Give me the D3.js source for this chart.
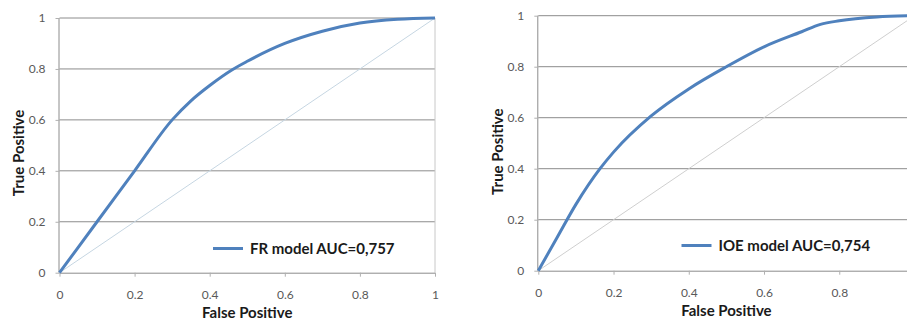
<!DOCTYPE html>
<html>
<head>
<meta charset="utf-8">
<script src="https://cdn.jsdelivr.net/npm/d3@7"></script>
<style>
  html, body { margin: 0; padding: 0; background: #fff; }
  svg { display: block; font-family: Lato, "Open Sans", sans-serif; }
</style>
</head>
<body>
<div id="chart"></div>
<script>
// Valores
const tickValues = [0, 0.2, 0.4, 0.6, 0.8, 1];
const tickLabels = ["0", "0.2", "0.4", "0.6", "0.8", "1"];

// Curva ROC del modelo FR
const fprFR = [0, 0.1, 0.2, 0.3, 0.35, 0.4, 0.46, 0.5, 0.6, 0.7, 0.8, 0.9, 1];
const tprFR = [0, 0.2, 0.4, 0.6, 0.675, 0.735, 0.797, 0.83, 0.9, 0.948, 0.98, 0.995, 1];

// Curva ROC del modelo IOE
const fprIOE = [0, 0.05, 0.1, 0.164, 0.2, 0.3, 0.4, 0.5, 0.6, 0.7, 0.75, 0.8, 0.9, 1];
const tprIOE = [0, 0.13, 0.26, 0.4, 0.465, 0.607, 0.713, 0.8, 0.878, 0.937, 0.966, 0.98, 0.995, 1];

const legendFR = "FR model AUC=0,757";
const legendIOE = "IOE model AUC=0,754";

const width = 907, height = 321;

const svg = d3.select("#chart").append("svg")
  .attr("width", width)
  .attr("height", height);

// Configuración de cada panel (posición en píxeles del área de trazado)
const panels = [
  { x0: 59.5, x1: 435, y0: 272.7, y1: 18, fpr: fprFR, tpr: tprFR, legend: legendFR,
    legX: 213, legY: 248.5, yTitleX: 24, yTitleY: 153, xTitleY: 318, diag: "#c6d6e2" },
  { x0: 538.3, x1: 914.5, y0: 270.7, y1: 15.7, fpr: fprIOE, tpr: tprIOE, legend: legendIOE,
    legX: 681.5, legY: 245.5, yTitleX: 502.5, yTitleY: 151.7, xTitleY: 316, diag: "#cfcfcf" }
];

const blue = "#4f81bd";

panels.forEach(p => {
  const x = d3.scaleLinear().domain([0, 1]).range([p.x0, p.x1]);
  const y = d3.scaleLinear().domain([0, 1]).range([p.y0, p.y1]);
  const g = svg.append("g");

  // Líneas de cuadrícula horizontales
  g.append("g")
    .selectAll("line")
    .data(tickValues.slice(1))
    .join("line")
    .attr("x1", x(0)).attr("x2", x(1))
    .attr("y1", d => y(d)).attr("y2", d => y(d))
    .attr("stroke", "#8c8c8c")
    .attr("stroke-width", 1);

  // Borde derecho del área
  g.append("line")
    .attr("x1", x(1)).attr("x2", x(1))
    .attr("y1", y(1)).attr("y2", y(0))
    .attr("stroke", "#c8c8c8");

  // Eje X (solo las marcas que caen dentro de la ventana)
  const xVals = tickValues.filter(v => x(v) < width - 4);
  const xAxis = d3.axisBottom(x)
    .tickValues(xVals)
    .tickFormat(d => tickLabels[tickValues.indexOf(d)])
    .tickSize(4)
    .tickPadding(14);
  const gx = g.append("g")
    .attr("transform", `translate(0,${y(0)})`)
    .call(xAxis);
  gx.select(".domain").attr("stroke", "#8c8c8c").attr("d", `M${x(0)},0.5H${x(1)}`);
  gx.selectAll(".tick line").attr("stroke", "#b0b0b0");
  gx.selectAll(".tick text")
    .attr("fill", "#595959")
    .attr("font-size", "12px")
    .attr("font-family", "Lato, sans-serif");

  // Eje Y
  const yAxis = d3.axisLeft(y)
    .tickValues(tickValues)
    .tickFormat((d, i) => tickLabels[i])
    .tickSize(4)
    .tickPadding(10);
  const gy = g.append("g")
    .attr("transform", `translate(${x(0)},0)`)
    .call(yAxis);
  gy.select(".domain").attr("stroke", "#8c8c8c").attr("d", `M-0.5,${y(1)}V${y(0)}`);
  gy.selectAll(".tick line").attr("stroke", "#b0b0b0");
  gy.selectAll(".tick text")
    .attr("fill", "#595959")
    .attr("font-size", "12px")
    .attr("font-family", "Lato, sans-serif");

  // Diagonal de referencia
  g.append("line")
    .attr("x1", x(0)).attr("y1", y(0))
    .attr("x2", x(1)).attr("y2", y(1))
    .attr("stroke", p.diag)
    .attr("stroke-width", 1);

  // Curva ROC
  const pts = p.fpr.map((v, i) => [v, p.tpr[i]]);
  const line = d3.line()
    .x(d => x(d[0]))
    .y(d => y(d[1]))
    .curve(d3.curveMonotoneX);
  g.append("path")
    .datum(pts)
    .attr("d", line)
    .attr("fill", "none")
    .attr("stroke", blue)
    .attr("stroke-width", 3)
    .attr("stroke-linejoin", "round");

  // Títulos de ejes
  g.append("text")
    .attr("x", (p.x0 + p.x1) / 2)
    .attr("y", p.xTitleY)
    .attr("text-anchor", "middle")
    .attr("font-size", "15px")
    .attr("font-weight", "bold")
    .attr("fill", "#1a1a1a")
    .text("False Positive");

  g.append("text")
    .attr("transform", `translate(${p.yTitleX},${p.yTitleY}) rotate(-90)`)
    .attr("text-anchor", "middle")
    .attr("font-size", "15px")
    .attr("font-weight", "bold")
    .attr("fill", "#1a1a1a")
    .text("True Positive");

  // Leyenda
  g.append("line")
    .attr("x1", p.legX).attr("x2", p.legX + 30)
    .attr("y1", p.legY).attr("y2", p.legY)
    .attr("stroke", blue)
    .attr("stroke-width", 3);
  g.append("text")
    .attr("x", p.legX + 37)
    .attr("y", p.legY)
    .attr("dy", "0.36em")
    .attr("font-size", "15px")
    .attr("font-weight", "bold")
    .attr("fill", "#1a1a1a")
    .text(p.legend);
});
</script>
</body>
</html>
